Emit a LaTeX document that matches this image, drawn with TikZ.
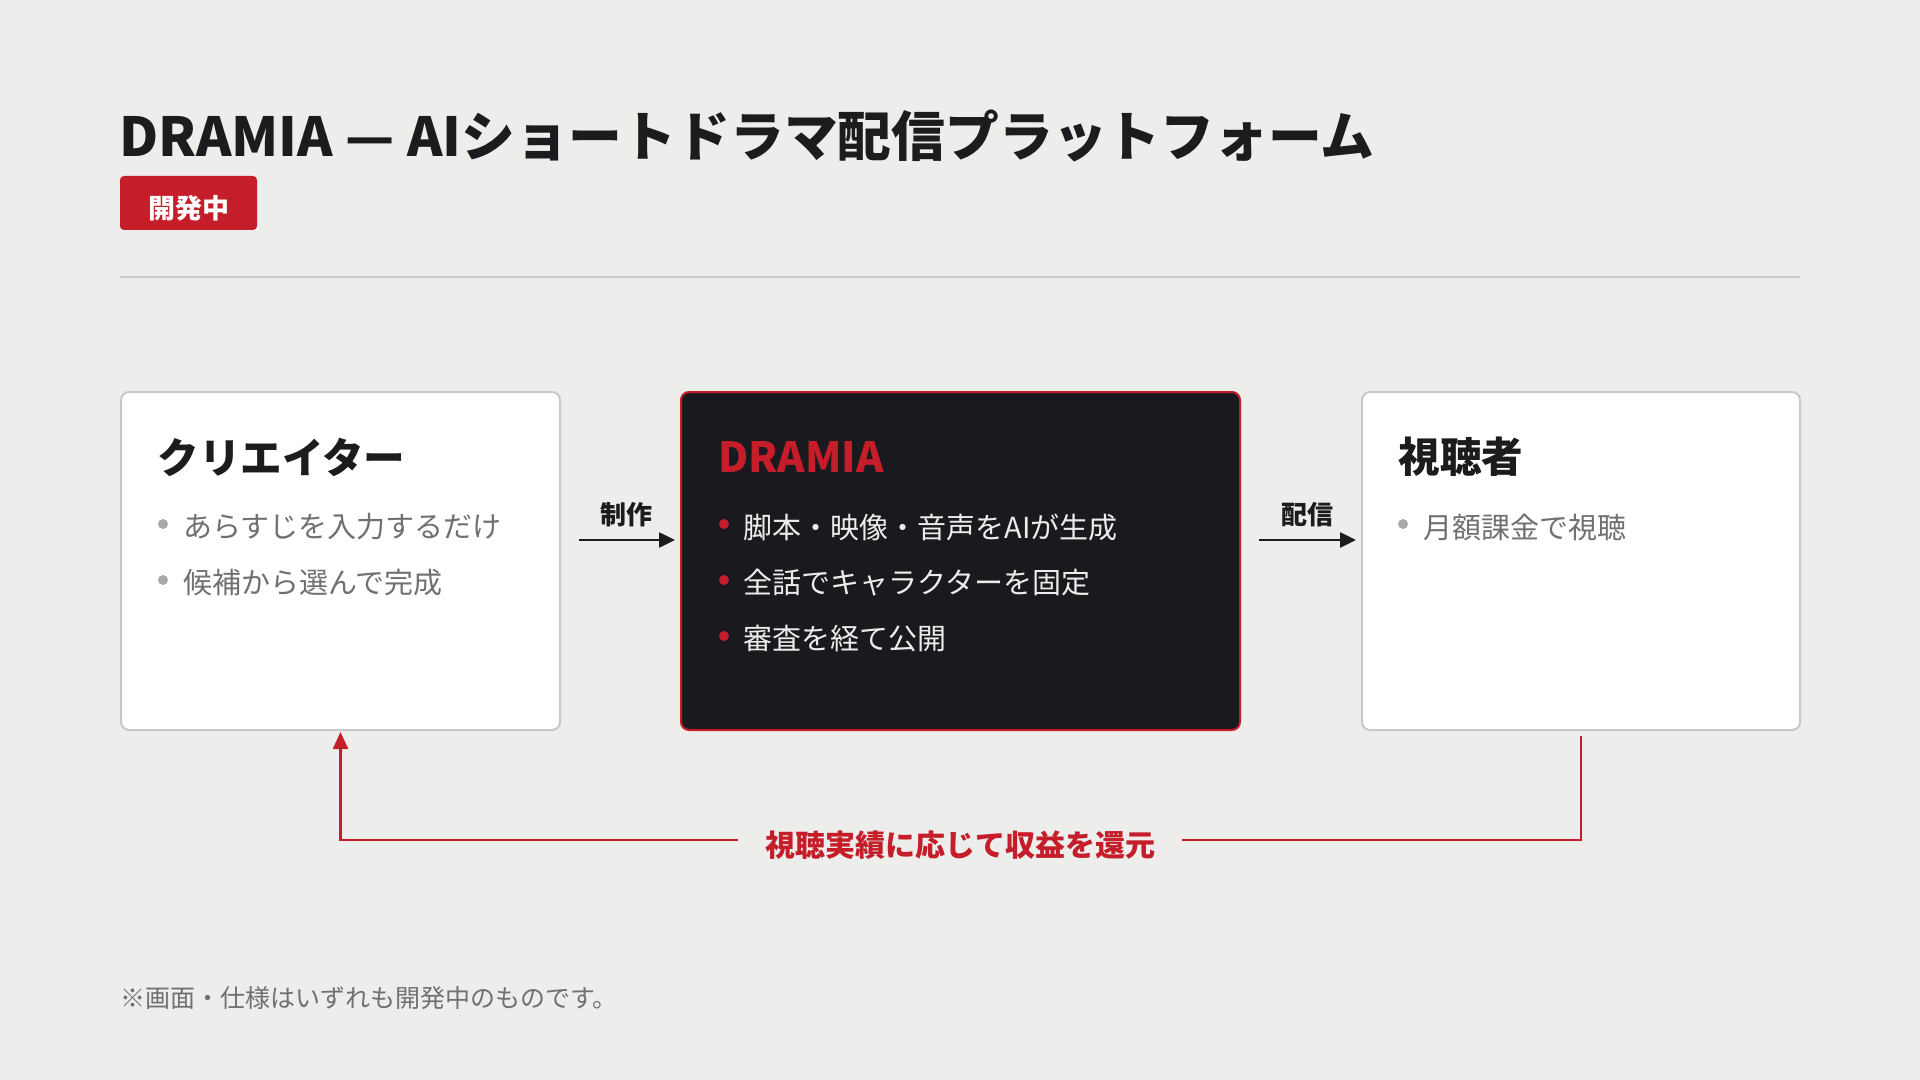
\documentclass[tikz,border=0pt]{standalone}
\usepackage{fontspec}
\setmainfont{Noto Sans CJK JP}
\usepackage{tikz}
\usetikzlibrary{arrows.meta,positioning,calc}
\definecolor{drbg}{RGB}{237,237,235}
\definecolor{drred}{RGB}{197,30,42}
\definecolor{drdark}{RGB}{26,26,30}
\definecolor{drink}{RGB}{28,28,30}
\definecolor{drgray}{RGB}{112,112,116}
\definecolor{drline}{RGB}{200,200,200}
\definecolor{drdot}{RGB}{170,170,170}
\definecolor{drwhite}{RGB}{236,236,236}
\tikzstyle{card} = [draw=drline, line width=1pt, fill=white, rounded corners=4pt, minimum height=169pt, inner sep=0pt]
\tikzstyle{head} = [anchor=west, inner sep=0pt, font=\bfseries\fontsize{20.8}{24}\selectfont, text=drink]
\tikzstyle{item} = [anchor=west, inner sep=0pt, font=\fontsize{14.5}{17}\selectfont, text=drgray]
\tikzstyle{dot} = [circle, fill=drdot, inner sep=0pt, minimum size=5pt]
\tikzstyle{arrow} = [line width=1.25pt, -{Triangle[length=8pt,width=7.5pt]}, color=drink, shorten <=9pt, shorten >=2.5pt]
\tikzstyle{flowlabel} = [above=6pt, inner sep=0pt, xshift=3pt, font=\bfseries\fontsize{13}{15}\selectfont, text=drink]
\tikzstyle{back} = [line width=1.2pt, -{Triangle[length=8.5pt,width=7.5pt]}, color=drred]

\begin{document}
\begin{tikzpicture}[x=0.5pt, y=-0.5pt]
    % Background
    \fill[drbg] (0,0) rectangle (1920,1080);

    % Title
    \node[anchor=base west, inner sep=0pt, font=\bfseries\fontsize{26.9}{32}\selectfont, text=drink] (title) at (119,157) {DRAMIA — AIショートドラマ配信プラットフォーム};
    \node[fill=drred, rounded corners=2pt, minimum width=68.5pt, minimum height=27pt, inner sep=0pt, text height=16pt, text depth=0pt, font=\bfseries\fontsize{13.5}{16}\selectfont, text=white] (badge) at (188.5,203) {開発中};
    \draw[drline, line width=1pt] (120,277) -- (1800,277);

    % Cards
    \node[card, minimum width=219.5pt] (creator) at (340.5,561) {};
    \node[card, draw=drred, fill=drdark, minimum width=279.5pt] (dramia) at (960.5,561) {};
    \node[card, minimum width=219pt] (viewer) at (1581,561) {};

    % Creator
    \node[head] (creatorhead) at (157,457) {クリエイター};
    \node[dot] (cdot1) at (163,524) {};
    \node[item] (citem1) at (183,527) {あらすじを入力するだけ};
    \node[dot] (cdot2) at (163,580) {};
    \node[item] (citem2) at (183,583) {候補から選んで完成};

    % Platform
    \node[head, text=drred] (dramiahead) at (718,457) {DRAMIA};
    \node[dot, fill=drred] (ddot1) at (724,524) {};
    \node[item, text=drwhite] (ditem1) at (743,527) {脚本・映像・音声をAIが生成};
    \node[dot, fill=drred] (ddot2) at (724,580) {};
    \node[item, text=drwhite] (ditem2) at (743,583) {全話でキャラクターを固定};
    \node[dot, fill=drred] (ddot3) at (724,636) {};
    \node[item, text=drwhite] (ditem3) at (743,639) {審査を経て公開};

    % Viewer
    \node[head] (viewerhead) at (1398,457) {視聴者};
    \node[dot] (vdot1) at (1403,524) {};
    \node[item] (vitem1) at (1423,527) {月額課金で視聴};

    % Flow
    \draw[arrow] ([yshift=10.5pt]creator.east) -- node[flowlabel] (makelabel) {制作} ([yshift=10.5pt]dramia.west);
    \draw[arrow] ([yshift=10.5pt]dramia.east) -- node[flowlabel] (deliverlabel) {配信} ([yshift=10.5pt]viewer.west);

    % Revenue loop
    \coordinate (loop) at (960,840);
    \draw[back, shorten <=2.5pt, shorten >=0.5pt] (viewer.south) |- (loop) -| (creator.south);
    \node[fill=drbg, inner xsep=13.5pt, inner ysep=0pt, font=\bfseries\fontsize{15}{18}\selectfont, text=drred] (looplabel) at ([yshift=-2.5pt]loop) {視聴実績に応じて収益を還元};

    % Note
    \node[anchor=west, inner sep=0pt, font=\fontsize{12.5}{15}\selectfont, text=drgray] (note) at (120,998) {※画面・仕様はいずれも開発中のものです。};
\end{tikzpicture}
\end{document}
